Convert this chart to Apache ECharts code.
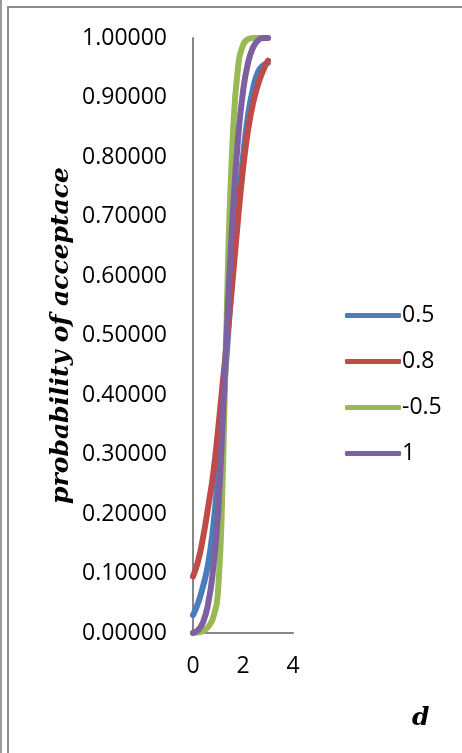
<!DOCTYPE html>
<html>
<head>
<meta charset="utf-8">
<script src="https://cdn.jsdelivr.net/npm/echarts@6/dist/echarts.min.js"></script>
<style>
  * { margin: 0; padding: 0; box-sizing: border-box; }
  body { width: 462px; height: 753px; background: #fff; overflow: hidden; }
  .outer { position: absolute; left: 0; top: 0; width: 3px; height: 753px; border-left: 2px solid #9a9a9a; }
  .frame { position: absolute; left: 7px; top: 6px; width: 470px; height: 760px;
           border-left: 2px solid #8c8c8c; border-top: 2px solid #8c8c8c; }
  #chart { position: absolute; left: 0; top: 0; width: 462px; height: 753px; }
</style>
</head>
<body>
<div class="outer"></div>
<div class="frame"></div>
<div id="chart"></div>
<script>
// d 取值
var dValues = [0, 0.2, 0.4, 0.6, 0.8, 1.0, 1.2, 1.4, 1.6, 1.8, 2.0, 2.2, 2.4, 2.6, 2.8, 3.0];
// 各序列的接受概率
var seriesNames = ['0.5', '0.8', '-0.5', '1'];
var s05 = [0.030, 0.050, 0.078, 0.115, 0.175, 0.265, 0.380, 0.500, 0.615, 0.715, 0.800, 0.870, 0.915, 0.943, 0.954, 0.958];
var s08 = [0.095, 0.120, 0.160, 0.210, 0.265, 0.340, 0.425, 0.510, 0.600, 0.695, 0.780, 0.845, 0.890, 0.922, 0.945, 0.962];
var sNeg05 = [0, 0.001, 0.003, 0.010, 0.025, 0.070, 0.280, 0.620, 0.840, 0.950, 0.988, 0.998, 1, 1, 1, 1];
var s1 = [0, 0.005, 0.018, 0.048, 0.105, 0.200, 0.370, 0.550, 0.710, 0.830, 0.910, 0.958, 0.984, 0.996, 1, 1];
var colors = ['#4A7EBB', '#BE4B48', '#98B954', '#7D60A0'];

function pairs(ys) {
  return dValues.map(function (d, i) { return [d, ys[i]]; });
}

var chart = echarts.init(document.getElementById('chart'));
var allData = [s05, s08, sNeg05, s1];

chart.setOption({
  animation: false,
  color: colors,
  grid: { left: 193, top: 38, width: 100, height: 595 },
  legend: {
    orient: 'vertical',
    left: 340,
    top: 298,
    itemWidth: 56,
    itemHeight: 5,
    itemGap: 21,
    icon: 'roundRect',
    textStyle: { fontFamily: 'Open Sans', fontSize: 23, color: '#000', lineHeight: 25, padding: [0, 0, 0, -4] },
    data: seriesNames
  },
  xAxis: {
    type: 'value',
    min: 0,
    max: 4,
    interval: 2,
    splitLine: { show: false },
    axisLine: { show: true, lineStyle: { color: '#868686', width: 2 } },
    axisTick: { show: false },
    axisLabel: { fontFamily: 'Open Sans', fontSize: 23, color: '#000', margin: 22 }
  },
  yAxis: {
    type: 'value',
    min: 0,
    max: 1,
    interval: 0.1,
    name: 'probability of acceptace',
    nameLocation: 'middle',
    nameGap: 119,
    nameRotate: 90,
    nameTextStyle: { fontFamily: 'DejaVu Serif', fontStyle: 'italic', fontWeight: 'bold', fontSize: 25, color: '#000' },
    splitLine: { show: false },
    axisLine: { show: true, lineStyle: { color: '#868686', width: 2 } },
    axisTick: { show: false },
    axisLabel: {
      fontFamily: 'Open Sans', fontSize: 23, color: '#000', margin: 26,
      formatter: function (v) { return v.toFixed(5); }
    }
  },
  graphic: [{
    type: 'text',
    left: 412,
    top: 706,
    style: { text: 'd', font: 'italic bold 25px "DejaVu Serif"', fill: '#000' }
  }],
  series: seriesNames.map(function (name, i) {
    return {
      name: name,
      type: 'line',
      data: pairs(allData[i]),
      smooth: 0.5,
      showSymbol: false,
      clip: false,
      lineStyle: { width: 6, color: colors[i], cap: 'round', join: 'round' }
    };
  })
});
</script>
</body>
</html>
